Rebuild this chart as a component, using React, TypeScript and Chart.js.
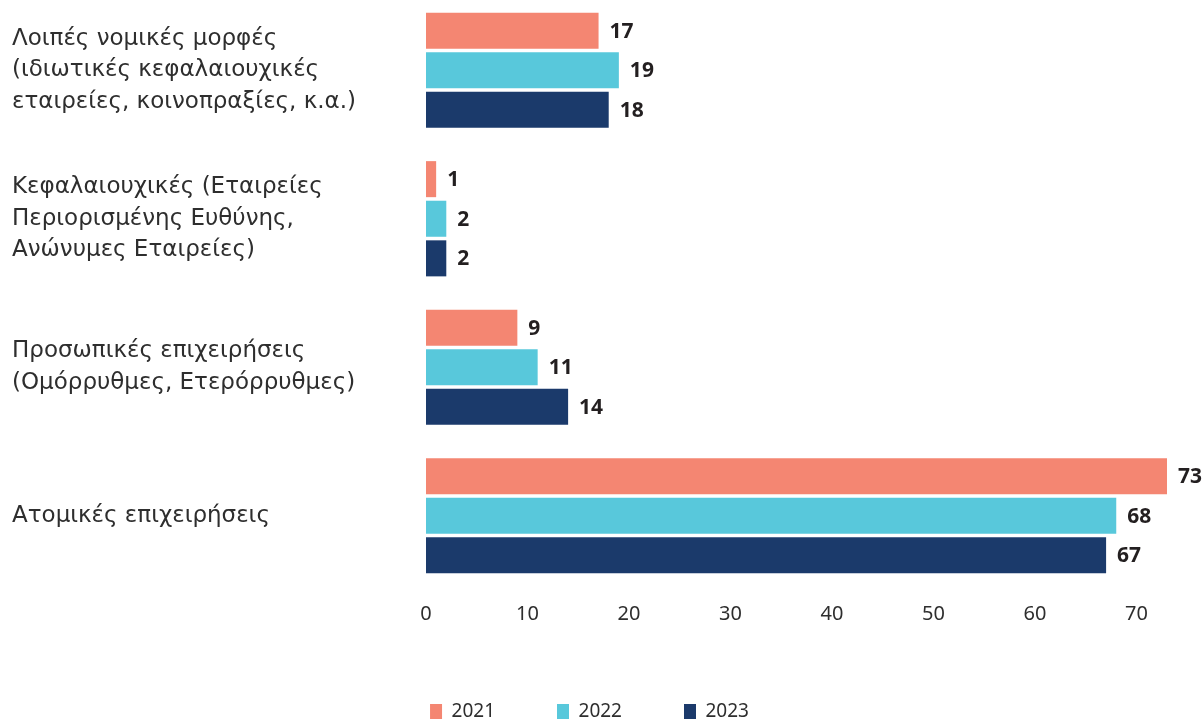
import React, { useEffect, useRef } from "react";
import { Chart, registerables } from "chart.js";

Chart.register(...registerables);

const categories: string[][] = [
  ["Λοιπές νομικές μορφές", "(ιδιωτικές κεφαλαιουχικές", "εταιρείες, κοινοπραξίες, κ.α.)"],
  ["Κεφαλαιουχικές (Εταιρείες", "Περιορισμένης Ευθύνης,", "Ανώνυμες Εταιρείες)"],
  ["Προσωπικές επιχειρήσεις", "(Ομόρρυθμες, Ετερόρρυθμες)"],
  ["Ατομικές επιχειρήσεις"],
];
const seriesNames = ["2021", "2022", "2023"];
const values2021 = [17, 1, 9, 73];
const values2022 = [19, 2, 11, 68];
const values2023 = [18, 2, 14, 67];
const colors = ["#F48672", "#58C8DB", "#1B3A6B"];

const FONT = "'DejaVu Sans', sans-serif";
const TICKFONT = "'Noto Sans', sans-serif";
const TEXT = "#2e2e2e";

const valueLabels = {
  id: "valueLabels",
  afterDatasetsDraw(chart: any) {
    const ctx = chart.ctx;
    ctx.save();
    ctx.font = `bold 21px 'Noto Sans', sans-serif`;
    ctx.fillStyle = "#231f20";
    ctx.textAlign = "left";
    ctx.textBaseline = "middle";
    chart.data.datasets.forEach((ds: any, di: number) => {
      const meta = chart.getDatasetMeta(di);
      meta.data.forEach((el: any, i: number) => {
        ctx.fillText(String(ds.data[i]), el.x + 11, el.y + 1);
      });
    });
    ctx.restore();
  },
};

export default function App() {
  const ref = useRef<HTMLCanvasElement>(null);
  useEffect(() => {
    if (!ref.current) return;
    const chart = new Chart(ref.current, {
      type: "bar",
      data: {
        labels: categories,
        datasets: [values2021, values2022, values2023].map((d, i) => ({
          label: seriesNames[i],
          data: d,
          backgroundColor: colors[i],
          borderWidth: 0,
          categoryPercentage: 0.8,
          barPercentage: 0.91,
        })),
      },
      options: {
        indexAxis: "y",
        animation: false,
        responsive: true,
        maintainAspectRatio: false,
        layout: { padding: { left: 12, right: 35, top: 0, bottom: 0 } },
        plugins: {
          tooltip: { enabled: false },
          legend: {
            position: "bottom",
            align: "center",
            maxHeight: 82,
            labels: {
              boxWidth: 12,
              boxHeight: 15,
              padding: 62,
              color: TEXT,
              font: { family: TICKFONT, size: 19 },
            },
          },
        },
        scales: {
          x: {
            min: 0,
            max: 73,
            grid: { display: false },
            border: { display: false },
            ticks: {
              stepSize: 10,
              includeBounds: false,
              color: TEXT,
              padding: 4,
              font: { family: TICKFONT, size: 20 },
            },
            afterFit: (s: any) => {
              s.height = 50;
              s.paddingLeft = 0;
              s.paddingRight = 0;
            },
          },
          y: {
            grid: { display: false },
            border: { display: false },
            ticks: {
              crossAlign: "far",
              color: TEXT,
              font: { family: FONT, size: 23, lineHeight: 1.37 },
            },
            afterFit: (s: any) => {
              s.width = 414;
              s.paddingTop = 0;
              s.paddingBottom = 0;
            },
          },
        },
      },
      plugins: [valueLabels],
    } as any);
    return () => chart.destroy();
  }, []);
  return (
    <div style={{ position: "absolute", left: 0, top: -4, width: 1202, height: 726 }}>
      <canvas ref={ref} />
    </div>
  );
}
